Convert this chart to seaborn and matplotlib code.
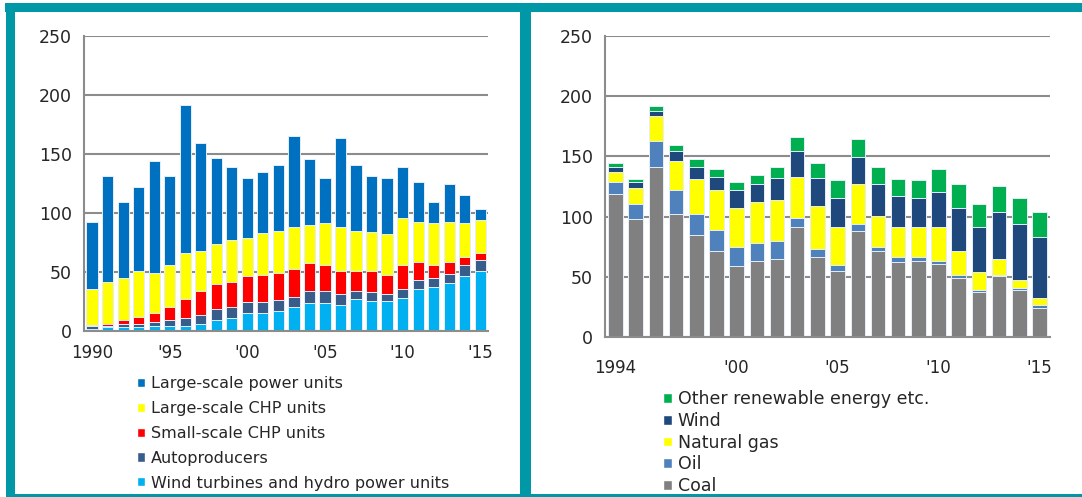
import numpy as np
import matplotlib.pyplot as plt
import seaborn as sns
from matplotlib.patches import Patch, Rectangle

# left panel: by producer type, 1990-2015
years_left = list(range(1990, 2016))
wind_hydro = [2.0, 3.4, 3.1, 3.1, 4.5, 4.5, 4.5, 6.2, 9.0, 10.7, 15.5, 15.5, 16.9,
              20.0, 23.4, 23.4, 21.8, 26.8, 25.1, 25.1, 27.7, 35.6, 37.3, 40.7, 46.3, 50.8]
autoproducers = [2.5, 1.1, 3.1, 3.1, 3.4, 4.8, 6.2, 7.6, 9.4, 9.3, 9.4, 9.4, 9.7,
                 9.1, 10.8, 10.5, 9.3, 7.4, 7.7, 6.0, 7.9, 7.9, 7.6, 7.3, 9.3, 9.4]
small_chp = [0.3, 1.7, 3.1, 5.9, 7.4, 10.7, 16.7, 19.8, 21.7, 21.5, 21.4, 22.8, 22.6,
             23.4, 23.1, 21.7, 19.7, 16.6, 18.0, 16.6, 20.0, 14.7, 10.7, 10.2, 7.4, 5.9]
large_chp = [30.5, 35.6, 35.6, 38.7, 33.9, 35.6, 39.0, 34.2, 33.9, 35.9, 32.5, 35.6, 35.5,
             35.6, 32.2, 35.6, 37.3, 34.2, 32.8, 34.2, 40.2, 34.5, 35.6, 34.5, 28.2, 28.0]
large_power = [57.1, 89.2, 64.4, 71.2, 94.6, 75.4, 125.1, 91.2, 72.6, 61.6, 51.2, 51.2, 56.0,
               77.4, 56.0, 38.8, 75.7, 55.7, 47.4, 48.1, 43.5, 33.9, 18.4, 32.2, 24.3, 9.6]
ticks_left = {1990: "1990", 1995: "'95", 2000: "'00", 2005: "'05", 2010: "'10", 2015: "'15"}

# right panel: by fuel, 1994-2015
years_right = list(range(1994, 2016))
coal = [118.8, 98.0, 141.4, 102.2, 84.8, 71.5, 59.1, 63.5, 64.9, 91.2, 66.6,
        55.2, 88.1, 71.5, 61.9, 63.3, 60.8, 49.2, 37.3, 50.6, 39.2, 24.3]
oil = [9.7, 12.5, 21.0, 19.6, 17.7, 17.7, 16.0, 14.4, 14.7, 8.0, 6.9,
       5.0, 6.1, 3.6, 4.7, 3.3, 2.7, 2.7, 1.4, 1.3, 1.4, 1.9]
natural_gas = [8.5, 13.3, 21.3, 24.6, 29.0, 32.9, 32.1, 34.3, 34.5, 33.9, 35.3,
               31.0, 32.6, 25.7, 24.6, 24.6, 27.7, 19.6, 15.2, 13.0, 6.9, 6.4]
wind = [4.4, 4.7, 4.3, 7.7, 9.9, 11.0, 14.9, 14.6, 17.7, 21.0, 23.0,
        24.0, 22.9, 26.0, 25.7, 24.6, 29.0, 35.4, 37.3, 39.0, 46.7, 50.3]
other_renewable = [3.4, 3.0, 4.0, 5.3, 6.4, 6.7, 6.6, 8.0, 9.6, 11.6, 13.0,
                   14.9, 14.6, 14.6, 14.6, 14.9, 19.6, 19.9, 19.3, 21.2, 21.3, 21.0]
ticks_right = {1994: "1994", 2000: "'00", 2005: "'05", 2010: "'10", 2015: "'15"}

layers_left = [("Wind turbines and hydro power units", wind_hydro, "#00B0F0"),
               ("Autoproducers", autoproducers, "#385D8A"),
               ("Small-scale CHP units", small_chp, "#FF0000"),
               ("Large-scale CHP units", large_chp, "#FFFF00"),
               ("Large-scale power units", large_power, "#0070C0")]
layers_right = [("Coal", coal, "#808080"),
                ("Oil", oil, "#4F81BD"),
                ("Natural gas", natural_gas, "#FFFF00"),
                ("Wind", wind, "#1F497D"),
                ("Other renewable energy etc.", other_renewable, "#00B050")]

sns.set_style("white")
plt.rcParams["font.family"] = ["DejaVu Sans"]

W, H = 1082, 497
teal = "#0098A6"
grid_c = "#8C8C8C"

fig = plt.figure(figsize=(W / 100, H / 100), dpi=100)


def px_box(x0, y0, x1, y1):
    # pixel box (top-left origin) -> figure fraction rect
    return [x0 / W, 1 - y1 / H, (x1 - x0) / W, (y1 - y0) / H]


ax1 = fig.add_axes(px_box(84.3, 36, 488, 331))
ax2 = fig.add_axes(px_box(605.4, 36, 1049.6, 337))


def stacked(ax, years, layers, ticks, xpad):
    tops = np.cumsum([np.array(v) for _, v, _ in layers], axis=0)
    # overlay cumulative totals, tallest first
    for (label, _, color), top in reversed(list(zip(layers, tops))):
        sns.barplot(x=years, y=top, color=color, saturation=1, width=0.72,
                    edgecolor="#E6EEF8", linewidth=0.7, ax=ax, zorder=2)
    n = len(years)
    ax.set_xlim(-0.5, n - 0.5)
    ax.set_ylim(0, 250)
    ax.set_yticks(range(0, 251, 50))
    ax.set_axisbelow(True)
    ax.yaxis.grid(True, color=grid_c, lw=1.5)
    ax.xaxis.grid(False)
    for s in ["top", "right"]:
        ax.spines[s].set_visible(False)
    for s in ["left", "bottom"]:
        ax.spines[s].set_color(grid_c)
        ax.spines[s].set_linewidth(1.5)
    ax.set_xticks([years.index(y) for y in ticks])
    ax.set_xticklabels(list(ticks.values()))
    ax.set_xticks(np.arange(-0.5, n), minor=True)
    ax.tick_params(axis="x", which="major", length=0, pad=xpad, labelsize=12)
    ax.tick_params(axis="x", which="minor", length=5, width=1.2, color=grid_c, direction="out")
    ax.tick_params(axis="y", length=5, width=1.2, color=grid_c, direction="out", pad=4, labelsize=12.5)
    ax.set_xlabel("")
    ax.set_ylabel("")


stacked(ax1, years_left, layers_left, ticks_left, 9)
stacked(ax2, years_right, layers_right, ticks_right, 16)

leg1 = fig.legend(handles=[Patch(facecolor=c, label=l) for l, _, c in reversed(layers_left)],
                  loc="upper left", bbox_to_anchor=(137 / W, 1 - 376 / H), frameon=False,
                  handlelength=0.5, handleheight=0.5, handletextpad=0.35, labelspacing=0.62,
                  borderpad=0, borderaxespad=0, fontsize=11.5)
leg2 = fig.legend(handles=[Patch(facecolor=c, label=l) for l, _, c in reversed(layers_right)],
                  loc="upper left", bbox_to_anchor=(663 / W, 1 - 390 / H), frameon=False,
                  handlelength=0.5, handleheight=0.5, handletextpad=0.35, labelspacing=0.22,
                  borderpad=0, borderaxespad=0, fontsize=12.5)

# teal frame around the two panels
for x0, y0, x1, y1 in [(5, 3, W, 12), (6, 3, 15, H), (520, 3, 531, H), (6, 494, W, H)]:
    r = px_box(x0, y0, x1, y1)
    fig.add_artist(Rectangle((r[0], r[1]), r[2], r[3], transform=fig.transFigure,
                             facecolor=teal, edgecolor="none", zorder=10))

fig.savefig("out.png", dpi=100)
